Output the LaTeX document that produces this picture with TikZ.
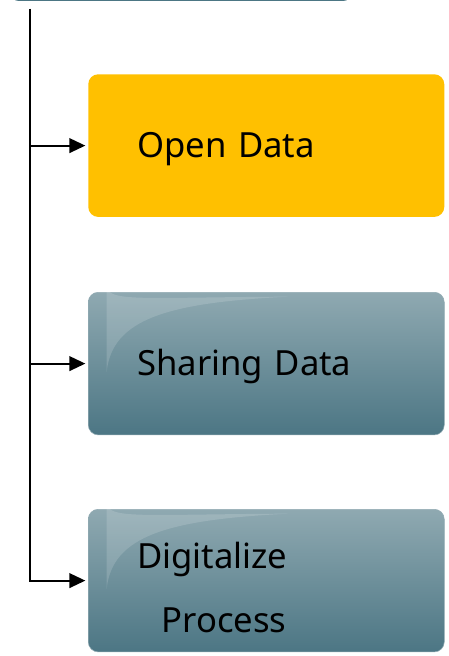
\documentclass[tikz,border=0pt]{standalone}
\usepackage{fontspec}
\setmainfont{Noto Sans}
\usetikzlibrary{arrows.meta,calc}
\definecolor{boxtop}{RGB}{143,169,177}
\definecolor{boxbot}{RGB}{76,118,132}
\definecolor{edgec}{RGB}{100,135,147}
\definecolor{gold}{RGB}{255,192,0}
\tikzset{
  item/.style={rounded corners=7.5pt, minimum width=267pt, minimum height=107pt,
    text width=267pt, align=left, inner xsep=0pt, inner ysep=0pt,
    font=\fontsize{26pt}{46pt}\selectfont, text=black},
  opendata/.style={item, fill=gold},
  tealbox/.style={item, top color=boxtop, bottom color=boxbot, draw=edgec!70, line width=0.4pt},
  conn/.style={line width=1.5pt, -{Triangle[length=12pt,width=11pt]}, shorten >=2pt},
  gloss/.style={fill=white, fill opacity=0.15, draw=none},
}
\begin{document}
\begin{tikzpicture}[x=0.75pt,y=-0.75pt]
\useasboundingbox (0,0) rectangle (449,656);
\begin{scope}
\clip (0,0) rectangle (449,656);
\node[draw=boxbot, line width=1.5pt, rounded corners=6pt, minimum width=255pt, minimum height=60pt, anchor=south west] (root) at (10,1) {};
\end{scope}

\node[opendata, anchor=north west] (b1) at (88,74) {\hspace*{36.75pt}\rule{0pt}{24pt}Open Data};
\node[tealbox, anchor=north west] (b2) at (88,292) {\hspace*{36.75pt}\rule{0pt}{24pt}Sharing Data};
\node[tealbox, anchor=north west] (b3) at (88,509) {\hspace*{36.75pt}\rule{0pt}{30pt}Digitalize\\[2pt]\hspace*{55pt}Process};

\foreach \b in {b2,b3}{
  \path[gloss] ($(\b.north west)+(14pt,5pt)$) .. controls ($(\b.north west)+(14pt,-8pt)$) and ($(\b.north west)+(40pt,-4pt)$) .. ($(\b.north west)+(150pt,-3.5pt)$)
     .. controls ($(\b.north west)+(60pt,-8pt)$) and ($(\b.north west)+(18pt,-20pt)$) .. ($(\b.north west)+(14pt,-60pt)$) -- cycle;
}

\coordinate (top) at (30,9);
\draw[line width=1.5pt] (top) -- (top |- b2.west);
\draw[conn] (top) |- (b3.west);
\draw[conn] (top |- b1.west) -- (b1.west);
\draw[conn] (top |- b2.west) -- (b2.west);
\end{tikzpicture}
\end{document}
